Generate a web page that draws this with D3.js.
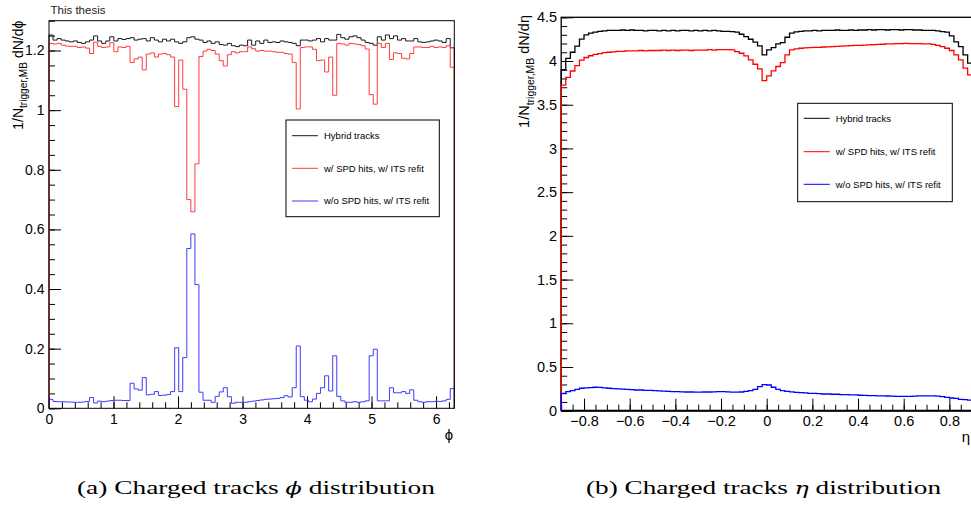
<!DOCTYPE html>
<html><head><meta charset="utf-8">
<script src="https://cdn.jsdelivr.net/npm/d3@7"></script>
<style>
body{margin:0;background:#fff;}
</style></head><body>
<svg id="c" width="971" height="508" font-family="'Liberation Sans',Arial,Helvetica,sans-serif"></svg>
<script>
// ---------- data: phi distribution (100 bins, 0..2pi) ----------
const seriesNames = ["Hybrid tracks", "w/ SPD hits, w/ ITS refit", "w/o SPD hits, w/ ITS refit"];
const phiHybrid = [1.252,1.235,1.240,1.235,1.232,1.229,1.232,1.227,1.224,1.229,
1.235,1.249,1.232,1.224,1.232,1.246,1.232,1.240,1.237,1.240,
1.243,1.235,1.238,1.240,1.232,1.243,1.235,1.229,1.238,1.232,
1.238,1.229,1.224,1.229,1.243,1.246,1.238,1.235,1.227,1.232,
1.224,1.229,1.220,1.218,1.224,1.216,1.213,1.218,1.216,1.235,
1.218,1.232,1.224,1.235,1.227,1.229,1.227,1.232,1.229,1.227,
1.224,1.216,1.235,1.235,1.232,1.235,1.240,1.229,1.240,1.235,
1.235,1.254,1.243,1.238,1.246,1.249,1.243,1.235,1.227,1.224,
1.218,1.246,1.235,1.252,1.240,1.249,1.235,1.240,1.232,1.232,
1.240,1.229,1.227,1.229,1.232,1.235,1.232,1.227,1.240,1.209];
const phiSPD = [1.224,1.222,1.224,1.218,1.215,1.214,1.214,1.210,1.212,1.208,
1.190,1.228,1.214,1.210,1.212,1.226,1.196,1.212,1.210,1.214,
1.160,1.172,1.178,1.135,1.188,1.192,1.178,1.188,1.190,1.186,
1.178,1.012,1.168,1.070,0.700,0.659,0.820,1.180,1.198,1.204,
1.200,1.188,1.166,1.148,1.186,1.196,1.192,1.196,1.196,1.212,
1.206,1.198,1.200,1.198,1.198,1.196,1.194,1.194,1.190,1.188,
1.160,1.004,1.210,1.212,1.212,1.204,1.166,1.168,1.128,1.178,
1.050,1.224,1.222,1.218,1.224,1.222,1.220,1.216,1.205,1.052,
1.020,1.224,1.210,1.224,1.170,1.192,1.190,1.174,1.172,1.190,
1.212,1.212,1.210,1.210,1.214,1.210,1.212,1.210,1.216,1.144];
const phiNoSPD = [0.030,0.023,0.022,0.022,0.021,0.021,0.020,0.020,0.021,0.023,
0.036,0.018,0.024,0.022,0.024,0.026,0.027,0.027,0.026,0.026,
0.084,0.065,0.061,0.103,0.045,0.047,0.056,0.043,0.044,0.046,
0.056,0.203,0.056,0.170,0.536,0.585,0.415,0.054,0.027,0.027,
0.020,0.040,0.055,0.069,0.039,0.017,0.020,0.020,0.020,0.022,
0.024,0.026,0.028,0.030,0.031,0.032,0.033,0.036,0.042,0.038,
0.069,0.209,0.039,0.027,0.022,0.031,0.050,0.069,0.109,0.058,
0.176,0.040,0.025,0.020,0.020,0.022,0.020,0.022,0.025,0.176,
0.198,0.025,0.025,0.025,0.069,0.052,0.052,0.056,0.050,0.062,
0.027,0.022,0.020,0.022,0.022,0.023,0.023,0.025,0.030,0.066];
const phiXTicks = [0,1,2,3,4,5,6];
const phiXTickLabels = ["0","1","2","3","4","5","6"];
const phiYTicks = [0,0.2,0.4,0.6,0.8,1,1.2];
const phiYTickLabels = ["0","0.2","0.4","0.6","0.8","1","1.2"];

// ---------- data: eta distribution (90 bins, -0.9..0.9) ----------
const etaHybrid = [3.90,4.03,4.10,4.17,4.25,4.30,4.32,4.33,4.34,4.345,
4.35,4.35,4.35,4.355,4.35,4.355,4.35,4.35,4.345,4.35,
4.35,4.345,4.35,4.345,4.35,4.345,4.35,4.35,4.345,4.35,
4.345,4.35,4.345,4.35,4.345,4.34,4.34,4.337,4.33,4.306,
4.28,4.249,4.215,4.173,4.07,4.127,4.154,4.196,4.21,4.272,
4.318,4.333,4.34,4.345,4.345,4.35,4.345,4.35,4.35,4.35,
4.355,4.35,4.35,4.355,4.35,4.355,4.355,4.36,4.355,4.36,
4.36,4.355,4.36,4.36,4.355,4.36,4.36,4.355,4.355,4.35,
4.35,4.35,4.345,4.337,4.33,4.287,4.22,4.165,4.07,3.975];
const etaSPD = [3.725,3.813,3.886,3.948,4.01,4.04,4.06,4.075,4.085,4.095,
4.10,4.105,4.11,4.11,4.115,4.115,4.115,4.12,4.115,4.12,
4.12,4.12,4.125,4.12,4.125,4.12,4.125,4.125,4.12,4.125,
4.125,4.125,4.13,4.125,4.13,4.13,4.13,4.127,4.108,4.089,
4.058,4.013,3.963,3.91,3.776,3.83,3.888,3.937,3.982,4.07,
4.127,4.139,4.146,4.15,4.152,4.155,4.157,4.16,4.162,4.165,
4.167,4.17,4.172,4.175,4.178,4.18,4.182,4.185,4.188,4.19,
4.192,4.195,4.197,4.2,4.2,4.202,4.2,4.2,4.198,4.195,
4.195,4.19,4.18,4.165,4.146,4.12,4.07,4.013,3.918,3.842];
const etaNoSPD = [0.199,0.218,0.230,0.245,0.257,0.262,0.264,0.268,0.266,0.262,
0.257,0.253,0.250,0.247,0.245,0.241,0.237,0.237,0.233,0.232,
0.230,0.226,0.224,0.222,0.218,0.218,0.216,0.214,0.214,0.212,
0.212,0.214,0.214,0.216,0.218,0.218,0.215,0.212,0.212,0.214,
0.222,0.230,0.245,0.275,0.298,0.294,0.268,0.245,0.230,0.222,
0.216,0.210,0.206,0.203,0.199,0.198,0.195,0.191,0.191,0.188,
0.188,0.184,0.184,0.180,0.180,0.177,0.176,0.173,0.173,0.169,
0.169,0.168,0.166,0.165,0.165,0.165,0.165,0.167,0.169,0.169,
0.169,0.169,0.167,0.161,0.153,0.145,0.140,0.130,0.126,0.122];
const etaXTicks = [-0.8,-0.6,-0.4,-0.2,0,0.2,0.4,0.6,0.8];
const etaXTickLabels = ["\u22120.8","\u22120.6","\u22120.4","\u22120.2","0","0.2","0.4","0.6","0.8"];
const etaYTicks = [0,0.5,1,1.5,2,2.5,3,3.5,4,4.5];
const etaYTickLabels = ["0","0.5","1","1.5","2","2.5","3","3.5","4","4.5"];

const SANS = "'Liberation Sans',Arial,Helvetica,sans-serif";
const svg = d3.select("#c");
svg.append("rect").attr("width",971).attr("height",508).attr("fill","#fff");

function drawPanel(cfg){
  const x = d3.scaleLinear().domain(cfg.xDomain).range(cfg.xRange);
  const y = d3.scaleLinear().domain(cfg.yDomain).range(cfg.yRange);
  const g = svg.append("g");
  const [x0,x1] = cfg.xRange, [yb,yt] = cfg.yRange;

  function frame(){
    g.append("rect").attr("x",x0).attr("y",yt).attr("width",x1-x0).attr("height",yb-yt)
      .attr("fill","none").attr("stroke","#000").attr("stroke-width",cfg.frameW);
  }
  if (!cfg.frameOnTop) frame();

  function styleAxis(sel, size){
    sel.select(".domain").remove();
    sel.selectAll("line").attr("stroke","#000").attr("stroke-width",1);
    sel.selectAll("text").attr("font-size",size).attr("fill","#000").attr("font-family",SANS);
  }
  // y axis
  g.append("g").attr("transform",`translate(${x0},0)`)
    .call(d3.axisLeft(y).tickValues(cfg.yMinor).tickFormat("").tickSizeInner(-6).tickSizeOuter(0))
    .call(s=>styleAxis(s,14));
  g.append("g").attr("transform",`translate(${x0},0)`)
    .call(d3.axisLeft(y).tickValues(cfg.yTicks).tickFormat((d,i)=>cfg.yTickLabels[i]).tickSizeInner(-12).tickSizeOuter(0).tickPadding(cfg.yPad))
    .call(s=>styleAxis(s,cfg.tickFont));
  // x axis
  g.append("g").attr("transform",`translate(0,${yb})`)
    .call(d3.axisBottom(x).tickValues(cfg.xMinor).tickFormat("").tickSizeInner(-6).tickSizeOuter(0))
    .call(s=>styleAxis(s,14));
  g.append("g").attr("transform",`translate(0,${yb})`)
    .call(d3.axisBottom(x).tickValues(cfg.xTicks).tickFormat((d,i)=>cfg.xTickLabels[i]).tickSizeInner(-12).tickSizeOuter(0).tickPadding(cfg.xPad))
    .call(s=>styleAxis(s,cfg.tickFont));
  if (cfg.xAxisW) g.append("line").attr("x1",x0).attr("x2",x1).attr("y1",yb).attr("y2",yb)
      .attr("stroke","#000").attr("stroke-width",cfg.xAxisW);

  // histograms
  const line = d3.line().x(d=>x(d[0])).y(d=>y(d[1])).curve(d3.curveStepAfter);
  cfg.series.forEach(s=>{
    const n = s.values.length;
    const w = (cfg.xDomain[1]-cfg.xDomain[0])/n;
    const edges = d3.range(n+1).map(i=>cfg.xDomain[0]+i*w);
    const pts = [[edges[0],0]].concat(s.values.map((v,i)=>[edges[i],v]),[[edges[n],s.values[n-1]],[edges[n],0]]);
    g.append("path").attr("d",line(pts)).attr("fill","none")
      .attr("stroke",s.color).attr("stroke-width",cfg.lineW);
  });
  if (cfg.frameOnTop) frame();

  // axis titles
  g.append("text").attr("x",cfg.xTitlePos[0]).attr("y",cfg.xTitlePos[1])
    .attr("font-size",15).attr("text-anchor","middle").text(cfg.xTitle);
  const yt2 = g.append("text").attr("transform",`translate(${cfg.yTitlePos[0]},${cfg.yTitlePos[1]}) rotate(-90)`)
    .attr("text-anchor","end").attr("font-size",cfg.yTitleFont);
  yt2.append("tspan").text("1/N");
  yt2.append("tspan").attr("font-size",cfg.yTitleFont*0.72).attr("dy",4.5).text("trigger,MB");
  yt2.append("tspan").attr("dy",-4.5).text(" dN/d"+cfg.xTitle);

  // legend
  const L = cfg.legend;
  g.append("rect").attr("x",L.x).attr("y",L.y).attr("width",L.w).attr("height",L.h)
    .attr("fill","#fff").attr("stroke","#000").attr("stroke-width",1);
  cfg.series.forEach((s,i)=>{
    const yy = L.rows[i];
    g.append("line").attr("x1",L.x+6).attr("x2",L.x+32).attr("y1",yy).attr("y2",yy)
      .attr("stroke",s.color).attr("stroke-width",1);
    g.append("text").attr("x",L.x+38).attr("y",yy).attr("dy","0.35em")
      .attr("font-size",L.font).attr("fill","#000").text(seriesNames[i]);
  });
}

drawPanel({
  xDomain:[0,2*Math.PI], xRange:[49,454.3],
  yDomain:[0,1.3], yRange:[408.3,20.7],
  xTicks:phiXTicks, xTickLabels:phiXTickLabels, xMinor:d3.range(0,6.3,0.2),
  yTicks:phiYTicks, yTickLabels:phiYTickLabels, yMinor:d3.range(0,1.3001,0.05),
  yPad:4.5, xPad:5.5, tickFont:14, frameW:1, lineW:1, frameOnTop:true,
  series:[{values:phiHybrid,color:"#1a1a1a"},{values:phiSPD,color:"#ff3c3c"},{values:phiNoSPD,color:"#3c3cff"}],
  xTitle:"\u03d5", xTitlePos:[449,440],
  yTitlePos:[22.5,20.7], yTitleFont:14,
  legend:{x:286,y:120,w:153.3,h:96.7,rows:[135.7,168.3,201],font:9.5}
});
drawPanel({
  xDomain:[-0.9,0.9], xRange:[561.2,972.2],
  yDomain:[0,4.5], yRange:[410.7,17.3],
  xTicks:etaXTicks, xTickLabels:etaXTickLabels, xMinor:d3.range(-0.9,0.9001,0.05),
  yTicks:etaYTicks, yTickLabels:etaYTickLabels, yMinor:d3.range(0,4.5001,0.1),
  yPad:4, xPad:5.5, tickFont:14.5, frameW:1.3, lineW:1.3, xAxisW:2,
  series:[{values:etaHybrid,color:"#000"},{values:etaSPD,color:"#ff0000"},{values:etaNoSPD,color:"#0000ff"}],
  xTitle:"\u03b7", xTitlePos:[966,442],
  yTitlePos:[529,15], yTitleFont:14.5,
  legend:{x:797.7,y:103.3,w:154.6,h:98.4,rows:[118.3,151.7,184.3],font:9.5}
});

// "This thesis"
svg.append("text").attr("x",50.5).attr("y",14).attr("font-size",11.5).attr("fill","#222").text("This thesis");

// captions
function caption(cx, label, sym, len){
  const t = svg.append("text").attr("x",cx).attr("y",494).attr("text-anchor","middle")
    .attr("font-family","'Liberation Serif','DejaVu Serif',serif").attr("font-size",19.5).attr("fill","#000");
  t.append("tspan").text(label+" Charged tracks ");
  t.append("tspan").attr("font-style","italic").attr("font-family","'DejaVu Serif',serif").attr("font-size",17).text(sym);
  t.append("tspan").text(" distribution");
  t.attr("textLength",len).attr("lengthAdjust","spacingAndGlyphs");
  return t;
}
caption(256,"(a)","\u03d5",358);
caption(763.5,"(b)","\u03b7",355);
</script>
</body></html>
